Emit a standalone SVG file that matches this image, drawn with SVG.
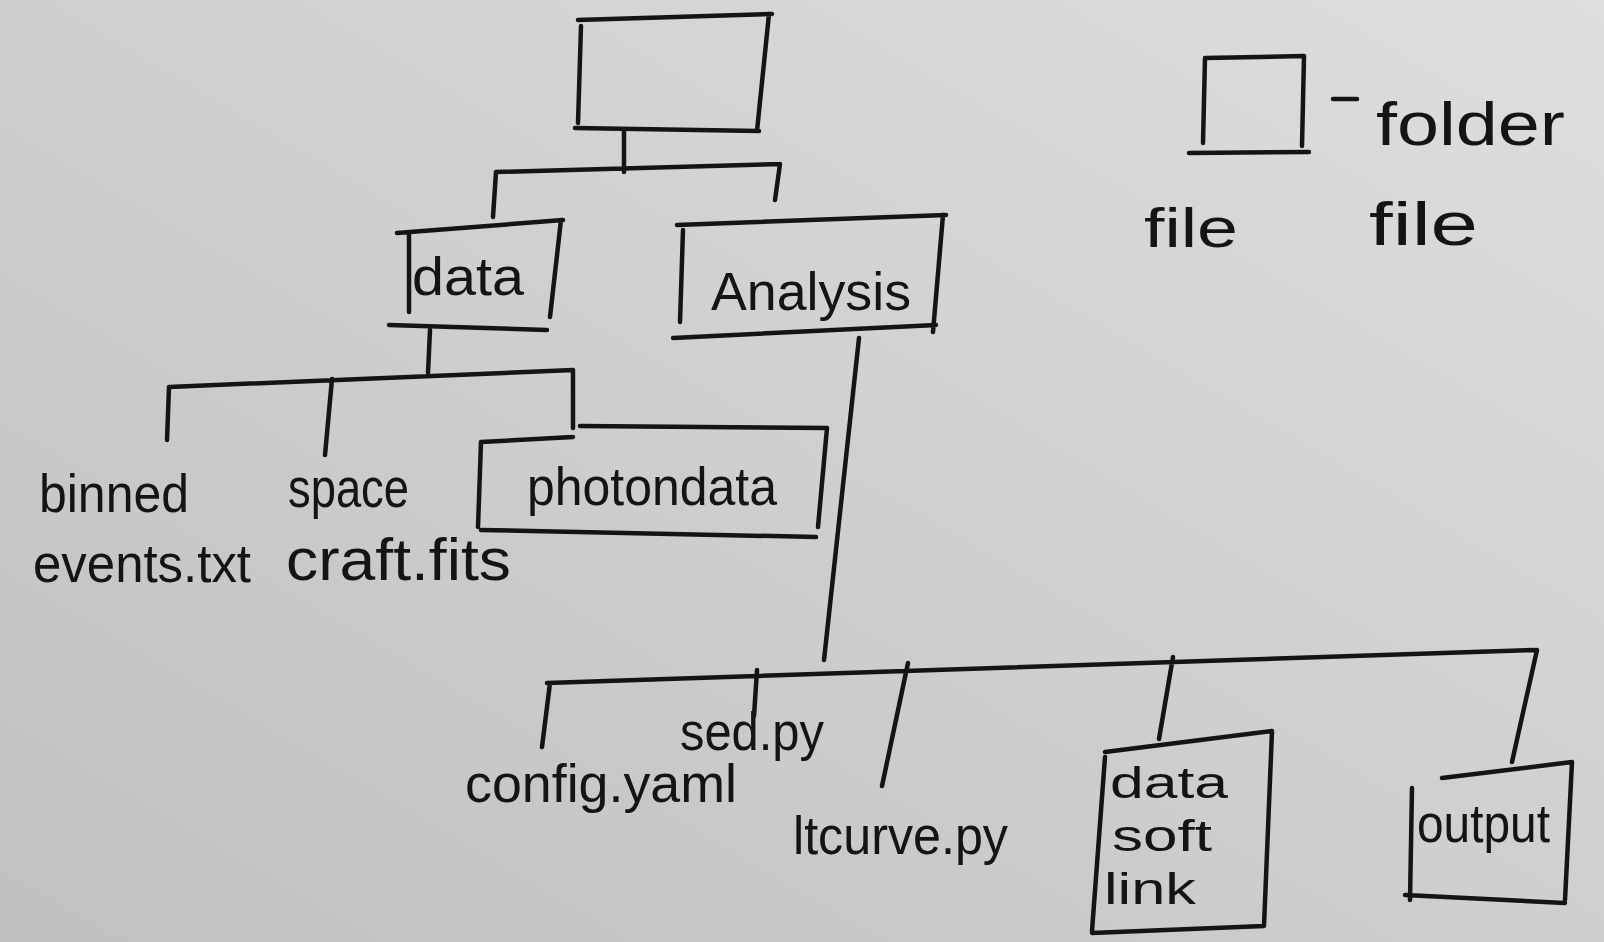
<svg xmlns="http://www.w3.org/2000/svg" width="1604" height="942" viewBox="0 0 1604 942">
<defs>
<linearGradient id="paper" x1="0" y1="1" x2="1" y2="0">
<stop offset="0" stop-color="#c0c0c0"/>
<stop offset="0.5" stop-color="#cfcfcf"/>
<stop offset="1" stop-color="#dedede"/>
</linearGradient>
<style>
.s{fill:none;stroke:#141414;stroke-width:4.5;stroke-linecap:round;stroke-linejoin:round}
.t{font-family:"Liberation Sans","DejaVu Sans",sans-serif;fill:#141414;font-size:54px}
.d{font-size:45px}
</style>
</defs>
<rect width="1604" height="942" fill="url(#paper)"/>
<g id="connectors" class="s">
<path d="M624,131 L624,172 M496,172 L780,164 M496,172 L493,217 M780,164 L775,200"/>
<path d="M430,330 L428,373 M169,387 L573,370 M169,387 L167,440 M332,379 L325,455 M573,370 L573,428"/>
<path d="M859,338 L824,660 M547,683 L1535,650 M550,683 L542,747 M757,670 L754,716 M908,663 L882,786 M1173,657 L1159,739 M1537,650 L1512,762"/>
</g>
<g id="root"><path class="s" d="M581,26 L578,123 M578,20 L772,14 M769,14 L757,131 M575,128 L759,131"/></g>
<g id="data">
<path class="s" d="M397,233 L563,220 M409,233 L409,312 M561,220 L550,317 M389,325 L547,330"/>
<text class="t" x="412" y="295" textLength="112" lengthAdjust="spacingAndGlyphs">data</text>
</g>
<g id="analysis">
<path class="s" d="M677,225 L946,215 M683,230 L680,322 M943,215 L933,332 M673,338 L936,325"/>
<text class="t" x="711" y="310" textLength="200" lengthAdjust="spacingAndGlyphs">Analysis</text>
</g>
<g id="photondata">
<path class="s" d="M481,442 L573,437 M580,426 L827,428 M481,442 L478,527 M827,428 L818,527 M481,530 L816,537"/>
<text class="t" x="527" y="505" textLength="250" lengthAdjust="spacingAndGlyphs">photondata</text>
</g>
<g id="binned-events">
<text class="t" x="39" y="512" textLength="150" lengthAdjust="spacingAndGlyphs">binned</text>
<text class="t" x="33" y="582" textLength="218" lengthAdjust="spacingAndGlyphs">events.txt</text>
</g>
<g id="spacecraft">
<text class="t" x="288" y="507" textLength="121" lengthAdjust="spacingAndGlyphs" style="font-size:56px">space</text>
<text class="t" x="286" y="580" textLength="225" lengthAdjust="spacingAndGlyphs" style="font-size:60px">craft.fits</text>
</g>
<g id="config"><text class="t" x="465" y="802" textLength="272" lengthAdjust="spacingAndGlyphs">config.yaml</text></g>
<g id="sed"><text class="t" x="680" y="750" textLength="144" lengthAdjust="spacingAndGlyphs">sed.py</text></g>
<g id="ltcurve"><text class="t" x="793" y="854" textLength="215" lengthAdjust="spacingAndGlyphs">ltcurve.py</text></g>
<g id="datasoftlink">
<path class="s" d="M1105,752 L1272,731 M1105,757 L1092,931 M1272,731 L1264,926 M1092,933 L1264,926"/>
<text class="t d" x="1110" y="798" textLength="118" lengthAdjust="spacingAndGlyphs">data</text>
<text class="t d" x="1112" y="851" textLength="100" lengthAdjust="spacingAndGlyphs">soft</text>
<text class="t d" x="1104" y="904" textLength="92" lengthAdjust="spacingAndGlyphs">link</text>
</g>
<g id="output">
<path class="s" d="M1442,778 L1572,762 M1412,788 L1410,900 M1572,762 L1565,900 M1405,895 L1565,903"/>
<text class="t" x="1417" y="842" textLength="133" lengthAdjust="spacingAndGlyphs">output</text>
</g>
<g id="legend">
<path class="s" d="M1205,58 L1203,143 M1205,58 L1304,56 M1304,56 L1302,146 M1189,153 L1309,152 M1333,99 L1357,99"/>
<text class="t" x="1376" y="145" textLength="189" lengthAdjust="spacingAndGlyphs" style="font-size:62px">folder</text>
<text class="t" x="1144" y="247" textLength="94" lengthAdjust="spacingAndGlyphs" style="font-size:56px">file</text>
<text class="t" x="1369" y="245" textLength="109" lengthAdjust="spacingAndGlyphs" style="font-size:62px">file</text>
</g>
</svg>
